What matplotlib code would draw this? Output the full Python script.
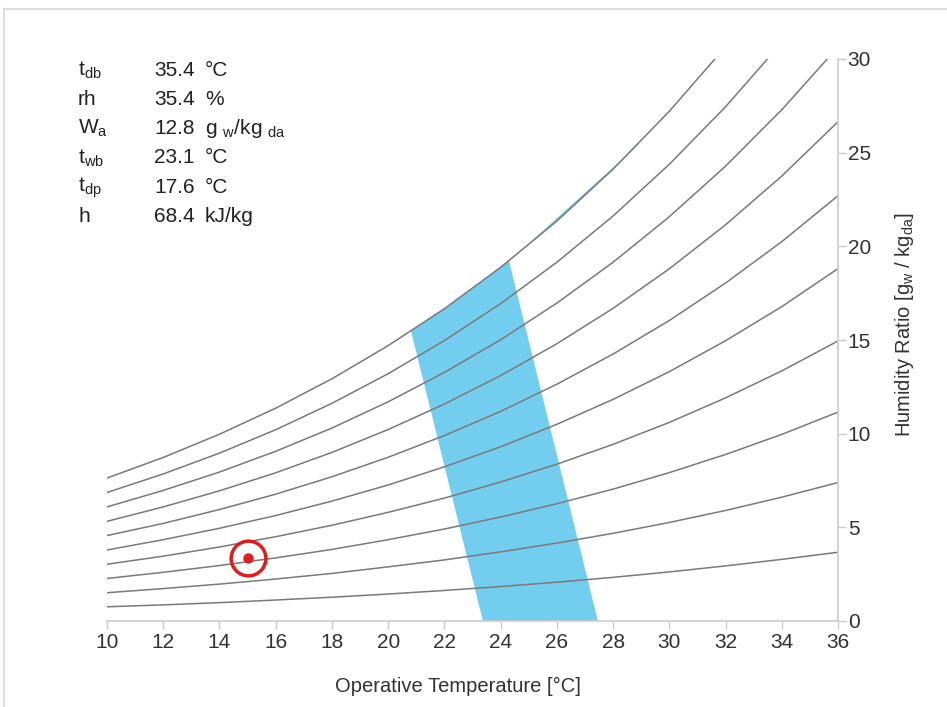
import matplotlib.pyplot as plt
from matplotlib.lines import Line2D

plt.rcParams['font.family'] = ['Liberation Sans', 'DejaVu Sans']

# dry bulb temperatures (deg C) where the curves were read
temps = [10, 12, 14, 16, 18, 20, 22, 24, 26, 28, 30, 32, 34, 36]

# humidity ratio (g/kg) of each relative humidity line, 10% .. 100%
rh_levels = [10, 20, 30, 40, 50, 60, 70, 80, 90, 100]
rh_10 = [0.76, 0.86, 0.98, 1.12, 1.27, 1.44, 1.63, 1.84, 2.07, 2.33, 2.62, 2.94, 3.29, 3.67]
rh_20 = [1.51, 1.73, 1.97, 2.24, 2.54, 2.89, 3.26, 3.69, 4.16, 4.68, 5.26, 5.90, 6.61, 7.39]
rh_30 = [2.27, 2.60, 2.96, 3.37, 3.82, 4.34, 4.91, 5.55, 6.26, 7.04, 7.92, 8.89, 9.96, 11.15]
rh_40 = [3.03, 3.46, 3.95, 4.50, 5.11, 5.80, 6.56, 7.42, 8.37, 9.43, 10.60, 11.91, 13.35, 14.95]
rh_50 = [3.79, 4.34, 4.95, 5.63, 6.40, 7.26, 8.23, 9.30, 10.50, 11.83, 13.31, 14.96, 16.78, 18.81]
rh_60 = [4.56, 5.21, 5.95, 6.77, 7.70, 8.74, 9.90, 11.19, 12.64, 14.25, 16.04, 18.04, 20.25, 22.70]
rh_70 = [5.32, 6.09, 6.95, 7.91, 9.00, 10.22, 11.58, 13.10, 14.80, 16.69, 18.80, 21.15, 23.75, 26.65]
rh_80 = [6.09, 6.97, 7.95, 9.06, 10.30, 11.70, 13.27, 15.01, 16.97, 19.15, 21.58, 24.28, 27.29, 30.64]
rh_90 = [6.86, 7.85, 8.96, 10.21, 11.62, 13.20, 14.97, 16.94, 19.15, 21.62, 24.38, 27.45, 30.87, 34.69]
rh_100 = [7.63, 8.73, 9.97, 11.36, 12.93, 14.70, 16.67, 18.88, 21.35, 24.12, 27.21, 30.65, 34.50, 38.78]
rh_lines = [rh_10, rh_20, rh_30, rh_40, rh_50, rh_60, rh_70, rh_80, rh_90, rh_100]

# comfort zone outline (temperature, humidity ratio)
zone_t = [23.37, 20.81, 22.0, 24.0, 26.0, 28.0, 29.1, 24.3, 27.46]
zone_w = [0.0, 15.5, 16.67, 18.88, 21.35, 24.12, 25.7, 19.2, 0.0]

# current state point
point_t = 15.0
point_w = 3.35

# readout box
info_names = ['t$_\\mathregular{db}$', 'rh', 'W$_\\mathregular{a}$', 't$_\\mathregular{wb}$',
              't$_\\mathregular{dp}$', 'h']
info_values = ['35.4', '35.4', '12.8', '23.1', '17.6', '68.4']
info_units = ['°C', '%', 'g $_\\mathregular{w}$/kg $_\\mathregular{da}$', '°C', '°C', 'kJ/kg']

fig = plt.figure(figsize=(9.47, 7.07), dpi=100)
ax = fig.add_axes([107 / 947, 1 - 621 / 707, 731 / 947, 562 / 707])

ax.fill(zone_t, zone_w, color='#72cdef', lw=0, zorder=1)
for w in rh_lines:
    ax.plot(temps, w, color='#7a7a7a', lw=1.1, zorder=2)

ax.plot(point_t, point_w, 'o', ms=25, mfc='none', mec='#d91f1f', mew=2.5, zorder=3)
ax.plot(point_t, point_w, 'o', ms=6.5, color='#d91f1f', zorder=3)

ax.set_xlim(10, 36)
ax.set_ylim(0, 30)
ax.set_xticks(range(10, 37, 2))
ax.set_yticks(range(0, 31, 5))
ax.yaxis.tick_right()
ax.yaxis.set_label_position('right')
for s in ['top', 'left']:
    ax.spines[s].set_visible(False)
for s in ['bottom', 'right']:
    ax.spines[s].set_color('#cccccc')
    ax.spines[s].set_linewidth(1.2)
ax.tick_params(colors='#cccccc', labelcolor='#333333', labelsize=15, length=6, width=1)
ax.tick_params(axis='x', pad=3)
ax.tick_params(axis='y', pad=1)

ax.set_xlabel('Operative Temperature [°C]', fontsize=14.5, color='#333333')
ax.xaxis.set_label_coords(351 / 731, -56 / 562)
ax.set_ylabel('Humidity Ratio [g$_\\mathregular{w}$ / kg$_\\mathregular{da}$]',
              fontsize=14.5, color='#333333')
ax.yaxis.label.set_va('center')
ax.yaxis.set_label_coords(798 / 731, 296 / 562)

# readout text in pixel positions of the figure
for i in range(len(info_names)):
    y = 1 - (70 + i * 29.3) / 707
    fig.text(78 / 947, y, info_names[i], fontsize=15, color='#222222', va='center')
    fig.text(154 / 947, y, info_values[i], fontsize=15, color='#222222', va='center')
    fig.text(205 / 947, y, info_units[i], fontsize=15, color='#222222', va='center')

# light frame on top and left edges
fig.add_artist(Line2D([4 / 947, 1.0], [1 - 9 / 707, 1 - 9 / 707], transform=fig.transFigure,
                      color='#dddddd', lw=1.5))
fig.add_artist(Line2D([4 / 947, 4 / 947], [0.0, 1 - 9 / 707], transform=fig.transFigure,
                      color='#dddddd', lw=1.5))

fig.savefig('out.png', dpi=100)
